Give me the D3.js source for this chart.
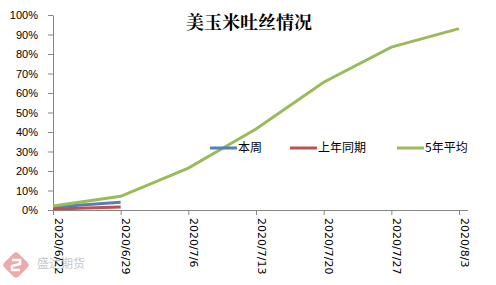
<!DOCTYPE html>
<html>
<head>
<meta charset="utf-8">
<script src="https://cdn.jsdelivr.net/npm/d3@7"></script>
<style>
  body { margin: 0; background: #fff; }
  #chart { width: 496px; height: 285px; }
</style>
</head>
<body>
<div id="chart"></div>
<script>
// data
var dates = ["2020/6/22", "2020/6/29", "2020/7/6", "2020/7/13", "2020/7/20", "2020/7/27", "2020/8/3"];
var thisWeek = [0.015, 0.04];
var lastYear = [0.005, 0.015];
var fiveYearAvg = [0.02, 0.07, 0.215, 0.415, 0.655, 0.835, 0.93];
var yTicks = [0, 0.1, 0.2, 0.3, 0.4, 0.5, 0.6, 0.7, 0.8, 0.9, 1];

var seriesNames = ["本周", "上年同期", "5年平均"];
var seriesColors = ["#4f81bd", "#c0504d", "#9bbb59"];

var svg = d3.select("#chart").append("svg")
    .attr("width", 496)
    .attr("height", 285);

var x = d3.scalePoint().domain(dates).range([53, 459]);
var y = d3.scaleLinear().domain([0, 1]).range([210, 15]);
var pct = d3.format(".0%");

// watermark logo, faint
var logo = svg.append("g").attr("transform", "translate(16,265)").attr("opacity", 0.55);
logo.append("rect")
    .attr("x", -10).attr("y", -10).attr("width", 20).attr("height", 20)
    .attr("rx", 4).attr("transform", "rotate(45)")
    .attr("fill", "#e06666");
logo.append("path")
    .attr("d", "M-4,-5 L4,-5 L4,-1 L-4,1 L-4,5 L4,5")
    .attr("fill", "none").attr("stroke", "#fff").attr("stroke-width", 2.5);
svg.append("text")
    .attr("x", 37).attr("y", 268)
    .attr("font-family", "Noto Sans CJK SC")
    .attr("font-size", "12px")
    .attr("fill", "#c8c8c8")
    .text("盛达期货");

// y axis
var yaxis = svg.append("g")
    .attr("transform", "translate(53,0)")
    .call(d3.axisLeft(y).tickValues(yTicks).tickFormat(pct).tickSize(5).tickSizeOuter(0));
yaxis.select(".domain").attr("stroke", "#868686");
yaxis.selectAll(".tick line").attr("stroke", "#868686");
yaxis.selectAll(".tick text")
    .attr("x", -15)
    .attr("font-family", "Liberation Sans, Arial, sans-serif")
    .attr("font-size", "11px")
    .attr("fill", "#000");

// x axis
var xaxis = svg.append("g")
    .attr("transform", "translate(0,210)")
    .call(d3.axisBottom(x).tickSize(5).tickSizeOuter(0));
xaxis.select(".domain").attr("d", "M53,0.5H468").attr("stroke", "#868686");
xaxis.selectAll(".tick line").attr("stroke", "#868686");
xaxis.selectAll(".tick text")
    .attr("transform", "translate(5,8) rotate(90)")
    .attr("x", 0).attr("y", 0).attr("dy", "0.35em")
    .style("text-anchor", "start")
    .attr("font-family", "DejaVu Sans, sans-serif")
    .attr("font-size", "11px")
    .attr("fill", "#000");

// lines
var line = d3.line()
    .x(function(d, i) { return x(dates[i]); })
    .y(function(d) { return y(d); });

[thisWeek, lastYear, fiveYearAvg].forEach(function(s, i) {
  svg.append("path")
      .datum(s)
      .attr("d", line)
      .attr("fill", "none")
      .attr("stroke", seriesColors[i])
      .attr("stroke-width", 3);
});

// legend
var legendX = [210, 290, 397];
seriesNames.forEach(function(n, i) {
  var g = svg.append("g").attr("transform", "translate(" + legendX[i] + ",148)");
  g.append("line").attr("x1", 0).attr("x2", 27).attr("y1", 0).attr("y2", 0)
      .attr("stroke", seriesColors[i]).attr("stroke-width", 3);
  g.append("text").attr("x", 28).attr("y", 0).attr("dy", "0.35em")
      .attr("font-family", "Noto Sans CJK SC")
      .attr("font-size", "12px")
      .attr("fill", "#000")
      .text(n);
});

// title
svg.append("text")
    .attr("x", 249).attr("y", 29)
    .attr("text-anchor", "middle")
    .attr("font-family", "Noto Serif CJK SC, Noto Sans CJK SC, serif")
    .attr("font-weight", "bold")
    .attr("font-size", "18px")
    .attr("fill", "#000")
    .text("美玉米吐丝情况");
</script>
</body>
</html>
